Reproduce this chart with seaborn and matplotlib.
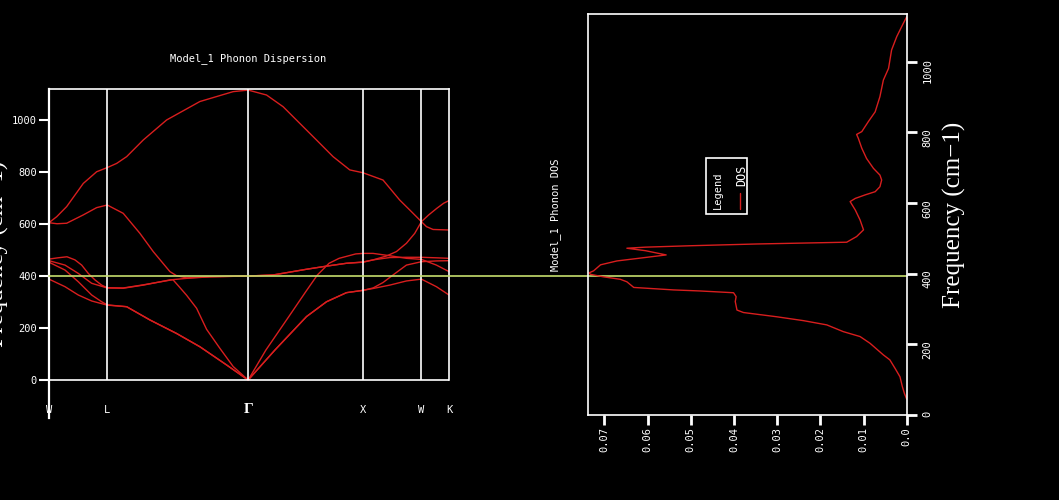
import matplotlib
matplotlib.use("Agg")
import matplotlib.pyplot as plt
import seaborn as sns
from matplotlib.patches import Rectangle

# ---------------- data ----------------
kpoint_labels = ["W", "L", "Γ", "X", "W", "K"]
kpoint_pos = [0.0, 58.3, 199.3, 314.3, 372.7, 400.3]
freq_ticks = [0, 200, 400, 600, 800, 1000]
fermi_freq = 400

band_a_k = [0, 7.7, 17.7, 34.3, 47.7, 58.3, 67.7, 77.7, 94.3, 117.7, 151, 184.3, 199.3,
            217.7, 234.3, 251, 267.7, 284.3, 301, 314.3, 334.3, 351, 361, 372.7, 377.7, 384.3, 400.3]
band_a_f = [605, 628, 667, 756, 801, 817, 833, 859, 923, 1000, 1071, 1109, 1115,
            1096, 1051, 987, 923, 859, 808, 797, 769, 692, 654, 609, 590, 579, 577]

band_b_k = [0, 8, 17.7, 34.3, 47.7, 58.3, 74.3, 91, 104.3, 121, 127.7, 137.7, 161, 199.3,
            224.3, 257.7, 277.7, 297.7, 314.3, 324.3, 337.7, 347.7, 357.7, 366, 372.7, 380, 388, 395, 400.3]
band_b_f = [605, 601, 603, 635, 663, 673, 641, 564, 494, 417, 401, 393, 397, 400,
            404, 426, 438, 449, 454, 462, 477, 494, 526, 564, 609, 635, 660, 680, 690]

band_c_k = [0, 9, 18, 26, 32.7, 39.3, 46, 52.7, 58.3, 74.3, 94.3, 121, 124, 130, 137.7, 147.7,
            157.7, 171, 184.3, 199.3, 217, 240, 257, 268.6, 280.3, 290.3, 307, 314.3, 324.3,
            341, 357.7, 372.7, 387.7, 400.3]
band_c_f = [465, 470, 474, 462, 442, 410, 385, 365, 355, 354, 366, 384, 386, 360, 326, 276,
            195, 122, 52, 0, 115, 244, 340, 404, 449, 468, 485, 487, 487,
            478, 468, 464, 442, 417]

band_d_k = [0, 16, 29.3, 42.7, 58.3, 74.3, 94.3, 121, 137.7, 161, 199.3, 224.3, 257.7, 277.7,
            297.7, 314.3, 324.3, 341, 357.7, 372.7, 387.7, 400.3]
band_d_f = [459, 442, 410, 372, 354, 353, 365, 385, 391, 397, 400, 404, 426, 438,
            449, 453, 462, 471, 472, 472, 470, 468]

band_e_k = [0, 16, 29.3, 42.7, 52.7, 58.3, 77.7, 101, 127.7, 151, 177.7, 199.3, 226, 257.7,
            277.7, 297.7, 314.3, 324.3, 334.3, 344.3, 357.7, 372.7, 387.7, 400.3]
band_e_f = [453, 423, 378, 327, 301, 289, 282, 231, 179, 128, 58, 0, 115, 244,
            301, 336, 345, 354, 375, 404, 442, 455, 458, 459]

band_f_k = [0, 16, 29.3, 42.7, 58.3, 77.7, 101, 127.7, 151, 177.7, 199.3, 226, 257.7, 277.7,
            297.7, 314.3, 324.3, 341, 357.7, 372.7, 387.7, 400.3]
band_f_f = [388, 359, 327, 304, 288, 282, 231, 179, 128, 58, 0, 115, 244, 301,
            336, 345, 352, 365, 381, 388, 359, 327]

dos_freq = [45, 60, 80, 108, 130, 156, 170, 203, 222, 236, 255, 267, 278, 290, 297, 321, 335,
            346, 351, 354, 361, 377, 384, 391, 398, 402, 408, 425, 436, 444, 453, 465, 472, 475,
            479, 484, 489, 505, 524, 552, 580, 604, 613, 623, 632, 646, 665, 679, 698, 726,
            755, 783, 794, 802, 830, 858, 901, 948, 981, 1033, 1071, 1108, 1127]
dos_vals = [0.0, 0.0005, 0.0010, 0.00155, 0.0026, 0.0039, 0.0054, 0.0085, 0.0108, 0.0147,
            0.0185, 0.0239, 0.0301, 0.0378, 0.0393, 0.0397, 0.0395, 0.0401, 0.0478, 0.0540,
            0.0632, 0.0648, 0.0663, 0.0702, 0.0732, 0.0736, 0.0725, 0.0709, 0.0671, 0.0617,
            0.0557, 0.0605, 0.0648, 0.0605, 0.0501, 0.0347, 0.0139, 0.0116, 0.0100, 0.0108,
            0.0119, 0.0131, 0.0119, 0.0096, 0.0073, 0.0062, 0.0058, 0.0062, 0.0077, 0.0093,
            0.0104, 0.0112, 0.0116, 0.0104, 0.0089, 0.0073, 0.0062, 0.0054, 0.0042, 0.0035,
            0.0023, 0.0008, 0.0]
dos_ticks = [0.0, 0.01, 0.02, 0.03, 0.04, 0.05, 0.06, 0.07]
dos_tick_labels = ["0.0", "0.01", "0.02", "0.03", "0.04", "0.05", "0.06", "0.07"]

# ---------------- style ----------------
sns.set_theme(style="dark")
plt.rcParams.update({
    "figure.facecolor": "black", "axes.facecolor": "black", "savefig.facecolor": "black",
    "axes.edgecolor": "white", "text.color": "white", "xtick.color": "white",
    "ytick.color": "white", "axes.labelcolor": "white", "axes.grid": False,
})
plt.rcParams["font.family"] = ["DejaVu Sans Mono", "DejaVu Sans"]

RED = "#d81e1e"
GREEN = "#c5de6e"
SMALL = 7.5

fig = plt.figure(figsize=(10.59, 5.0), dpi=100)
ax1 = fig.add_axes([49 / 1059, (500 - 418) / 500, 400 / 1059, (418 - 89.3) / 500])
ax2 = fig.add_axes([588 / 1059, (500 - 415) / 500, 318.7 / 1059, (415 - 14.3) / 500])

# ---------------- dispersion ----------------
bands = [(band_a_k, band_a_f), (band_b_k, band_b_f), (band_c_k, band_c_f),
         (band_d_k, band_d_f), (band_e_k, band_e_f), (band_f_k, band_f_f)]
for bk, bf in bands:
    sns.lineplot(x=bk, y=bf, ax=ax1, color=RED, lw=1.0, estimator=None, sort=False)

ytop = 1118
ax1.set_xlim(kpoint_pos[0], kpoint_pos[-1])
ax1.set_ylim(-146, ytop)
ax1.vlines(kpoint_pos[1:-1], 0, ytop, colors="white", lw=1.2)
ax1.axhline(0, color="white", lw=1.2)
ax1.axhline(fermi_freq, xmin=0, xmax=(906.7 - 49) / 400, clip_on=False,
            color=GREEN, lw=1.2, zorder=6)

for s in ["left", "top", "right"]:
    ax1.spines[s].set_visible(True)
    ax1.spines[s].set_color("white")
    ax1.spines[s].set_linewidth(1.2)
ax1.spines["left"].set_linewidth(1.6)
ax1.spines["right"].set_bounds(0, ytop)
ax1.spines["bottom"].set_visible(False)

ax1.set_yticks(freq_ticks)
ax1.set_yticklabels([str(v) for v in freq_ticks])
ax1.tick_params(axis="y", left=True, length=7.2, width=1.5, pad=1.5, labelsize=SMALL)
ax1.set_xticks(kpoint_pos)
ax1.set_xticklabels(kpoint_labels)
ax1.tick_params(axis="x", bottom=True, length=0, pad=-5.8, labelsize=SMALL)
for t in ax1.get_xticklabels():
    t.set_va("center")
    if t.get_text() == "Γ":
        t.set_fontfamily("Liberation Serif")
        t.set_fontsize(11)
        t.set_fontweight("bold")

ax1.text(0.498, 1.095, "Model_1 Phonon Dispersion", transform=ax1.transAxes,
         ha="center", va="center", fontsize=SMALL)
ax1.set_ylabel("Frequency (cm−1)", fontfamily="Liberation Serif", fontsize=18)
ax1.yaxis.set_label_coords(-0.1, 0.5)
ax1.set_xlabel("")

# ---------------- DOS ----------------
ax2.set_facecolor("none")
sns.lineplot(x=dos_vals, y=dos_freq, ax=ax2, color=RED, lw=1.0, estimator=None, sort=False)
ax2.set_xlim(0.0738, 0.0)
ax2.set_ylim(0, 1134)
for s in ["left", "top", "right", "bottom"]:
    ax2.spines[s].set_visible(True)
    ax2.spines[s].set_color("white")
    ax2.spines[s].set_linewidth(1.2)

ax2.yaxis.tick_right()
ax2.yaxis.set_label_position("right")
ax2.set_yticks(freq_ticks)
ax2.set_yticklabels([str(v) for v in freq_ticks])
ax2.tick_params(axis="y", right=True, left=False, length=7.2, width=2, pad=4.3,
                labelsize=SMALL, labelrotation=90)
ax2.set_xticks(dos_ticks)
ax2.set_xticklabels(dos_tick_labels)
ax2.tick_params(axis="x", bottom=True, length=7.2, width=2, pad=1.5,
                labelsize=SMALL, labelrotation=90)

ax2.set_ylabel("Frequency (cm−1)", fontfamily="Liberation Serif", fontsize=18)
ax2.yaxis.set_label_coords(1.114, 0.5)
ax2.set_xlabel("")
ax2.text(-0.1004, 0.5, "Model_1 Phonon DOS", rotation=90, transform=ax2.transAxes,
         ha="center", va="center", fontsize=SMALL)

# rotated legend
ax2.add_patch(Rectangle((0.370, 0.501), 0.130, 0.140, transform=ax2.transAxes,
                        fill=False, edgecolor="white", lw=1.2))
ax2.text(0.408, 0.560, "Legend", rotation=90, transform=ax2.transAxes,
         ha="center", va="center", fontsize=SMALL)
ax2.text(0.482, 0.599, "DOS", rotation=90, transform=ax2.transAxes,
         ha="center", va="center", fontsize=8.5)
ax2.plot([0.477, 0.477], [0.514, 0.554], transform=ax2.transAxes, color=RED, lw=1.0)

fig.savefig("out.png", dpi=100, facecolor="black")
